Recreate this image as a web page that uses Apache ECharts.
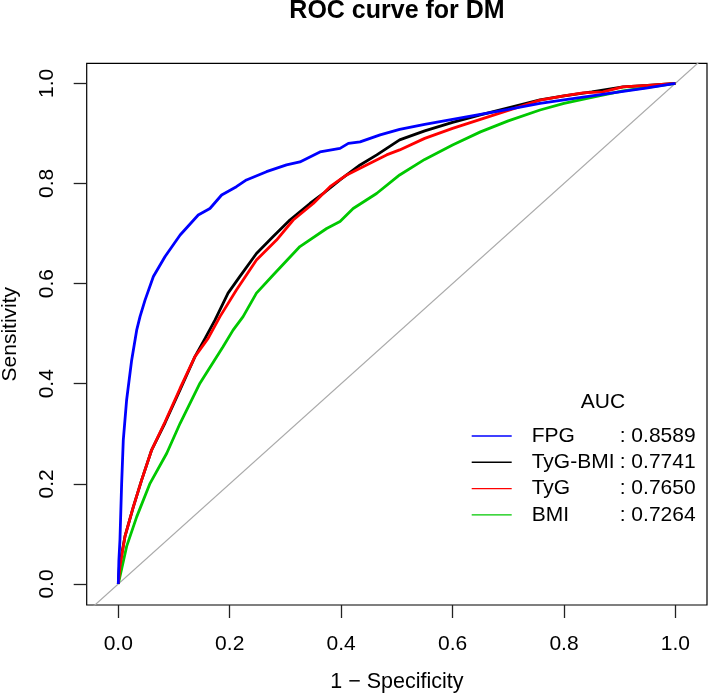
<!DOCTYPE html>
<html>
<head>
<meta charset="utf-8">
<script src="https://cdn.jsdelivr.net/npm/echarts@6/dist/echarts.min.js"></script>
<style>html,body{margin:0;padding:0;background:#fff}#c{width:709px;height:697px}</style>
</head>
<body>
<div id="c"></div>
<script>
// ---- data ----
const seriesNames = ['FPG', 'TyG-BMI', 'TyG', 'BMI'];
const aucValues = ['0.8589', '0.7741', '0.7650', '0.7264'];
const xTicks = [0, 0.2, 0.4, 0.6, 0.8, 1.0];
const yTicks = [0, 0.2, 0.4, 0.6, 0.8, 1.0];

const fpgX = [0, 0.001, 0.003, 0.006, 0.009, 0.015, 0.024, 0.033, 0.039, 0.048, 0.063, 0.084, 0.111, 0.1435, 0.1645, 0.1855, 0.212, 0.230, 0.266, 0.302, 0.326, 0.362, 0.398, 0.413, 0.434, 0.470, 0.505, 0.55, 0.60, 0.65, 0.70, 0.757, 0.80, 0.85, 0.90, 0.95, 1.0];
const fpgY = [0, 0.045, 0.088, 0.200, 0.288, 0.368, 0.447, 0.507, 0.534, 0.567, 0.614, 0.654, 0.697, 0.737, 0.750, 0.777, 0.7935, 0.807, 0.8235, 0.837, 0.843, 0.863, 0.870, 0.880, 0.883, 0.897, 0.908, 0.918, 0.928, 0.938, 0.948, 0.960, 0.967, 0.975, 0.983, 0.991, 1.0];

const tygbmiX = [0, 0.002, 0.012, 0.027, 0.042, 0.060, 0.084, 0.111, 0.1376, 0.156, 0.1735, 0.197, 0.218, 0.248, 0.278, 0.308, 0.344, 0.368, 0.398, 0.434, 0.464, 0.505, 0.55, 0.60, 0.65, 0.70, 0.757, 0.80, 0.85, 0.906, 0.95, 1.0];
const tygbmiY = [0, 0.035, 0.095, 0.154, 0.208, 0.268, 0.322, 0.388, 0.454, 0.491, 0.527, 0.581, 0.614, 0.660, 0.694, 0.727, 0.760, 0.780, 0.807, 0.837, 0.857, 0.887, 0.905, 0.922, 0.937, 0.951, 0.967, 0.975, 0.983, 0.993, 0.996, 1.0];

const tygX = [0, 0.003, 0.012, 0.027, 0.042, 0.060, 0.084, 0.111, 0.1376, 0.1615, 0.1825, 0.212, 0.248, 0.284, 0.314, 0.350, 0.380, 0.410, 0.4456, 0.4815, 0.505, 0.55, 0.60, 0.65, 0.70, 0.757, 0.80, 0.834, 0.87, 0.906, 0.95, 1.0];
const tygY = [0, 0.035, 0.095, 0.154, 0.208, 0.268, 0.324, 0.391, 0.454, 0.491, 0.534, 0.587, 0.647, 0.687, 0.727, 0.760, 0.7935, 0.817, 0.837, 0.857, 0.867, 0.89, 0.91, 0.928, 0.946, 0.9666, 0.975, 0.981, 0.983, 0.993, 0.996, 1.0];

const bmiX = [0, 0.003, 0.015, 0.033, 0.057, 0.087, 0.111, 0.1466, 0.188, 0.206, 0.224, 0.248, 0.278, 0.326, 0.374, 0.398, 0.4216, 0.4636, 0.505, 0.55, 0.60, 0.65, 0.70, 0.757, 0.80, 0.85, 0.906, 0.95, 1.0];
const bmiY = [0, 0.015, 0.075, 0.134, 0.201, 0.261, 0.321, 0.401, 0.474, 0.507, 0.534, 0.581, 0.617, 0.674, 0.710, 0.724, 0.750, 0.780, 0.817, 0.848, 0.877, 0.903, 0.925, 0.9467, 0.96, 0.972, 0.985, 0.992, 1.0];

const refLine = [-0.1, 1.1];
// --------------------------------------

const FONT = "'Liberation Sans', Arial, Helvetica, sans-serif";
const zip = (xs, ys) => xs.map((x, i) => [x, ys[i]]);
const colors = { 'FPG': '#0000FF', 'TyG-BMI': '#000000', 'TyG': '#FF0000', 'BMI': '#00C800' };
const aucOf = {};
seriesNames.forEach((n, i) => aucOf[n] = aucValues[i]);

function curve(name, xs, ys, z) {
  return {
    name: name, type: 'line', data: zip(xs, ys), z: z,
    symbol: 'none', showSymbol: false, smooth: false,
    lineStyle: { color: colors[name], width: 2.8 },
    itemStyle: { color: colors[name] },
    emphasis: { disabled: true }, silent: true, clip: true
  };
}

const chart = echarts.init(document.getElementById('c'), null, { renderer: 'canvas' });
chart.setOption({
  animation: false,
  backgroundColor: '#fff',
  title: [
    { text: 'ROC curve for DM', left: 397, top: -1, padding: 0, textAlign: 'center',
      textStyle: { fontFamily: FONT, fontSize: 25, fontWeight: 'bold', color: '#000' } },
    { text: 'AUC', left: 603, top: 392, padding: 0, textAlign: 'center',
      textStyle: { fontFamily: FONT, fontSize: 21, fontWeight: 'normal', color: '#000' } }
  ],
  grid: { left: 86.7, right: 2, top: 63.3, bottom: 92, show: true, borderColor: '#000', borderWidth: 1.2,
          backgroundColor: 'transparent', containLabel: false, outerBoundsMode: 'none' },
  legend: {
    data: seriesNames, orient: 'vertical', left: 471.7, top: 423, padding: 0,
    icon: 'rect', itemWidth: 40, itemHeight: 1.4, itemGap: 0.3, selectedMode: false,
    itemStyle: { borderWidth: 0 },
    formatter: name => '{n|' + name + '}{v|: ' + aucOf[name] + '}',
    textStyle: {
      fontFamily: FONT, fontSize: 21, color: '#000', lineHeight: 26, padding: [0, 0, 0, 15],
      rich: {
        n: { fontFamily: FONT, fontSize: 21, color: '#000', width: 88, lineHeight: 26 },
        v: { fontFamily: FONT, fontSize: 21, color: '#000', lineHeight: 26 }
      }
    }
  },
  xAxis: {
    type: 'value', min: -0.0567, max: 1.0567, position: 'bottom',
    name: '1 \u2212 Specificity', nameLocation: 'middle', nameGap: 66,
    nameTextStyle: { fontFamily: FONT, fontSize: 21.5, color: '#000' },
    axisLine: { show: false, onZero: false },
    axisTick: { show: true, inside: false, length: 13, customValues: xTicks, lineStyle: { color: '#222', width: 1.3 } },
    axisLabel: { show: true, customValues: xTicks, margin: 29, fontFamily: FONT, fontSize: 21, color: '#000',
                 formatter: v => Number(v).toFixed(1) },
    splitLine: { show: false }
  },
  yAxis: {
    type: 'value', min: -0.042, max: 1.04, position: 'left',
    name: 'Sensitivity', nameLocation: 'middle', nameGap: 66, nameRotate: 90,
    nameTextStyle: { fontFamily: FONT, fontSize: 21, color: '#000' },
    axisLine: { show: false, onZero: false },
    axisTick: { show: true, inside: false, length: 13, customValues: yTicks, lineStyle: { color: '#222', width: 1.3 } },
    axisLabel: { show: true, customValues: yTicks, margin: 29, rotate: 90, fontFamily: FONT, fontSize: 21, color: '#000',
                 formatter: v => Number(v).toFixed(1) },
    splitLine: { show: false }
  },
  series: [
    { name: 'ref', type: 'line', data: zip(refLine, refLine), symbol: 'none', silent: true, clip: true, z: 0,
      lineStyle: { color: '#AAAAAA', width: 1.2 }, emphasis: { disabled: true } },
    curve('TyG-BMI', tygbmiX, tygbmiY, 1),
    curve('BMI', bmiX, bmiY, 2),
    curve('TyG', tygX, tygY, 3),
    curve('FPG', fpgX, fpgY, 4)
  ]
});
</script>
</body>
</html>
